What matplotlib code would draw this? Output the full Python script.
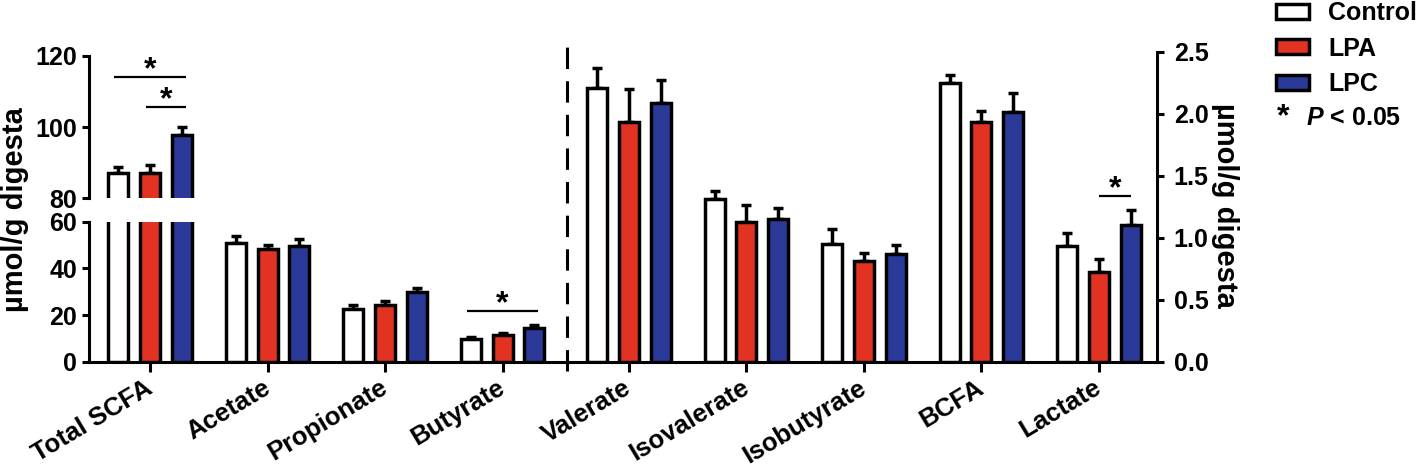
import numpy as np
import matplotlib
matplotlib.use("Agg")
import matplotlib.pyplot as plt
import matplotlib.transforms as mtransforms
from matplotlib.patches import Patch

plt.rcParams['font.family'] = ['Liberation Sans', 'DejaVu Sans']
plt.rcParams['font.weight'] = 'bold'
plt.rcParams['mathtext.fontset'] = 'custom'
plt.rcParams['mathtext.it'] = 'Liberation Sans:bold:italic'
plt.rcParams['mathtext.rm'] = 'Liberation Sans:bold'

# data, mean and upper SEM
groups = ['Control', 'LPA', 'LPC']
colors = ['white', '#e23222', '#2b3a98']

cats_left = ['Total SCFA', 'Acetate', 'Propionate', 'Butyrate']
control_left = [87.0, 50.7, 22.5, 9.6]
control_left_err = [1.7, 3.0, 1.8, 1.0]
lpa_left = [87.2, 48.2, 24.3, 11.4]
lpa_left_err = [2.3, 1.8, 1.8, 0.8]
lpc_left = [97.8, 49.7, 29.7, 14.6]
lpc_left_err = [2.3, 2.8, 2.0, 1.0]

cats_right = ['Valerate', 'Isovalerate', 'Isobutyrate', 'BCFA', 'Lactate']
control_right = [2.21, 1.31, 0.95, 2.25, 0.93]
control_right_err = [0.16, 0.07, 0.12, 0.06, 0.11]
lpa_right = [1.93, 1.13, 0.81, 1.93, 0.72]
lpa_right_err = [0.27, 0.13, 0.07, 0.09, 0.11]
lpc_right = [2.09, 1.15, 0.87, 2.01, 1.10]
lpc_right_err = [0.18, 0.09, 0.07, 0.16, 0.12]

# significance: (category, group a, group b, bar height)
sig_total = [(0, 0, 2, 114.0), (0, 1, 2, 105.7)]
sig_low = [(3, 0, 2, 21.7)]
sig_right = [(4, 1, 2, 1.333)]

LW = 2.5
bar_w = 0.17
offsets = [-0.27, 0.0, 0.27]
x_left = np.arange(len(cats_left))
x_right = np.arange(len(cats_right)) + len(cats_left) + 0.075
xlim = (-0.52, 8.57)

W, H = 1418, 468
fig = plt.figure(figsize=(W / 100, H / 100), dpi=100)

def fax(x0, y0, x1, y1):
    # pixel box -> figure axes
    return fig.add_axes([x0 / W, 1 - y1 / H, (x1 - x0) / W, (y1 - y0) / H])

ax_low = fax(89, 221.7, 1157, 361.7)
ax_up = fax(89, 56, 1157, 198.3)
ax_r = fax(89, 51.7, 1157, 361.7)
ax_r.set_facecolor('none')


def draw_bars(ax, xs, series):
    for k, (vals, errs) in enumerate(series):
        pos = xs + offsets[k]
        ax.bar(pos, vals, bar_w, color=colors[k], edgecolor='black',
               linewidth=LW, zorder=3)
        ax.errorbar(pos, vals, yerr=[np.zeros(len(vals)), errs], fmt='none',
                    ecolor='black', elinewidth=LW, capsize=3.8, capthick=LW,
                    zorder=2)


left_series = [(control_left, control_left_err), (lpa_left, lpa_left_err),
               (lpc_left, lpc_left_err)]
right_series = [(control_right, control_right_err), (lpa_right, lpa_right_err),
                (lpc_right, lpc_right_err)]

draw_bars(ax_low, x_left, left_series)
draw_bars(ax_up, x_left, left_series)
draw_bars(ax_r, x_right, right_series)

for ax in (ax_low, ax_up, ax_r):
    ax.set_xlim(*xlim)
    for s in ax.spines.values():
        s.set_linewidth(2.2)
        s.set_visible(False)
    ax.tick_params(width=2.2, length=5, labelsize=18, direction='out')

ax_low.set_ylim(0, 60)
ax_low.set_yticks([0, 20, 40, 60])
ax_low.spines['left'].set_visible(True)
ax_low.spines['bottom'].set_visible(True)
ax_low.set_xticks(np.concatenate([x_left, x_right]))
ax_low.set_xticklabels(cats_left + cats_right)
ax_low.tick_params(axis='x', length=7, pad=3, labelsize=18.5)
shift = mtransforms.ScaledTranslation(-4 / 72, 0, fig.dpi_scale_trans)
for lab in ax_low.get_xticklabels():
    lab.set_rotation(31)
    lab.set_ha('right')
    lab.set_va('top')
    lab.set_rotation_mode('anchor')
    lab.set_transform(lab.get_transform() + shift)

ax_up.set_ylim(80, 120)
ax_up.set_yticks([80, 100, 120])
ax_up.spines['left'].set_visible(True)
ax_up.set_xticks([])

ax_r.set_ylim(0, 2.5)
ax_r.set_yticks(np.arange(0, 2.51, 0.5))
ax_r.yaxis.set_major_formatter('{x:.1f}')
ax_r.yaxis.tick_right()
ax_r.spines['right'].set_visible(True)
ax_r.set_xticks([])
ax_r.tick_params(axis='y', pad=7)

# divider between the two y scales
ax_r.axvline(3.546, ymin=-0.03, ymax=1.044, color='black', lw=2.2,
             dashes=(7, 4), clip_on=False)


def sig(ax, xs, items, pad=0.035):
    for c, a, b, y in items:
        x0 = xs[c] + offsets[a] - pad
        x1 = xs[c] + offsets[b] + pad
        ax.plot([x0, x1], [y, y], color='black', lw=1.6, clip_on=False,
                solid_capstyle='butt')
        ax.annotate('*', xy=((x0 + x1) / 2, y), xytext=(0, 5),
                    textcoords='offset points', ha='center', va='center',
                    fontsize=23, fontweight='bold', annotation_clip=False)


sig(ax_up, x_left, sig_total)
sig(ax_low, x_left, sig_low)
sig(ax_r, x_right, sig_right, pad=0.0)

fig.text(15 / W, 1 - 210 / H, 'µmol/g digesta', rotation=90, ha='center',
         va='center', fontsize=21, fontweight='bold')
fig.text(1225 / W, 1 - 205 / H, 'µmol/g digesta', rotation=270, ha='center',
         va='center', fontsize=21, fontweight='bold')

handles = [Patch(facecolor=colors[k], edgecolor='black', linewidth=LW)
           for k in range(3)]
leg = fig.legend(handles, groups, loc='upper left',
                 bbox_to_anchor=(1273 / W, 1 + 1 / H), frameon=False,
                 fontsize=18, handlelength=1.35, handleheight=0.55,
                 handletextpad=0.75, labelspacing=0.45, borderpad=0.1,
                 borderaxespad=0)
fig.text(1283 / W, 1 - 117 / H, '*', ha='center', va='center', fontsize=23,
         fontweight='bold')
fig.text(1306 / W, 1 - 118 / H, r'$P$ < 0.05', ha='left', va='center',
         fontsize=18, fontweight='bold')

fig.savefig('out.png', dpi=100)
